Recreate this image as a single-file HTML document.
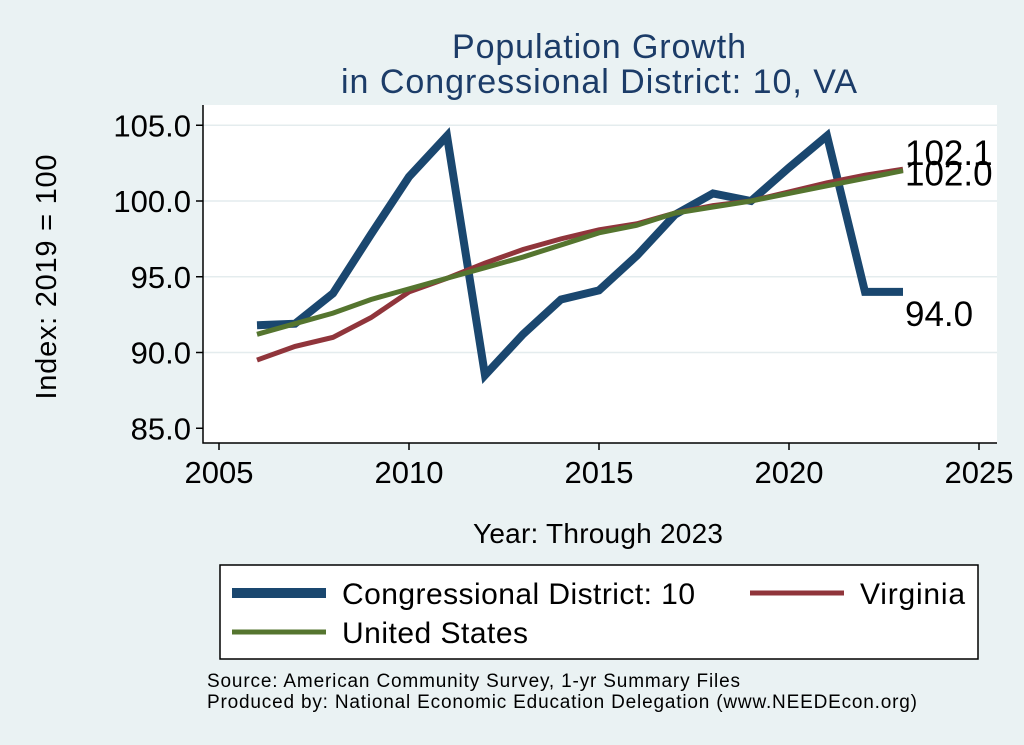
<!DOCTYPE html>
<html><head><meta charset="utf-8"><style>
body{margin:0;background:#eaf2f3;}
svg{display:block;font-family:"Liberation Sans",sans-serif;}
</style></head><body>
<svg id="c" width="1024" height="745" viewBox="0 0 1024 745">
<rect x="0" y="0" width="1024" height="745" fill="#eaf2f3"/>
<text x="599" y="58" font-size="34" fill="#1c3c68" text-anchor="middle" textLength="294">Population Growth</text>
<text x="599" y="93" font-size="34" fill="#1c3c68" text-anchor="middle" textLength="516">in Congressional District: 10, VA</text>
<rect x="203" y="105" width="794" height="338" fill="#fff"/>
<g id="grid"></g><g id="axes"></g><g id="series"></g>
<text transform="translate(56,277) rotate(-90)" font-size="29" text-anchor="middle" textLength="245">Index: 2019 = 100</text>
<text x="598" y="543" font-size="28" text-anchor="middle" textLength="250">Year: Through 2023</text>
<g>
<rect x="220" y="565" width="758" height="94" fill="#fff" stroke="#000" stroke-width="1.5"/>
<line x1="232" y1="593" x2="326" y2="593" stroke="#1a476f" stroke-width="10"/>
<text x="342" y="604" font-size="30" textLength="353">Congressional District: 10</text>
<line x1="750" y1="593" x2="844" y2="593" stroke="#90353b" stroke-width="5"/>
<text x="860" y="604" font-size="30" textLength="105">Virginia</text>
<line x1="232" y1="632" x2="326" y2="632" stroke="#55752f" stroke-width="5"/>
<text x="342" y="643" font-size="30" textLength="186">United States</text>
</g>
<text x="207" y="687" font-size="19" textLength="533">Source: American Community Survey, 1-yr Summary Files</text>
<text x="207" y="708" font-size="19" textLength="710">Produced by: National Economic Education Delegation (www.NEEDEcon.org)</text>
</svg>
<script>
const years=[2006,2007,2008,2009,2010,2011,2012,2013,2014,2015,2016,2017,2018,2019,2020,2021,2022,2023];
const district=[91.8,91.9,93.9,97.8,101.6,104.3,88.5,91.2,93.5,94.1,96.4,99.1,100.5,100.0,102.2,104.3,94.0,94.0];
const virginia=[89.5,90.4,91.0,92.3,94.0,94.9,95.9,96.8,97.5,98.1,98.5,99.2,99.7,100.0,100.6,101.2,101.7,102.1];
const us=[91.2,91.9,92.6,93.5,94.2,94.9,95.6,96.3,97.1,97.9,98.4,99.2,99.6,100.0,100.5,101.0,101.5,102.0];
const xTicks=[2005,2010,2015,2020,2025];
const yTicks=[85,90,95,100,105];
const NS='http://www.w3.org/2000/svg';
const X=v=>219+(v-2005)*38;
const Y=v=>201-(v-100)*15.15;
function mk(t,a,p){const e=document.createElementNS(NS,t);for(const k in a)e.setAttribute(k,a[k]);p.appendChild(e);return e;}
const grid=document.getElementById('grid'),axes=document.getElementById('axes'),ser=document.getElementById('series');
yTicks.forEach(v=>{
 if(v>85){const g=mk('line',{x1:203,x2:997,y1:Y(v),y2:Y(v),stroke:'#e4ecee','stroke-width':1.5},grid);
 
 }
 const t=mk('line',{x1:196,x2:203,y1:Y(v),y2:Y(v),stroke:'#000','stroke-width':1.5},axes);
 
 
 const l=mk('text',{x:191,y:Y(v)+11,'font-size':31,'text-anchor':'end'},axes);l.textContent=v.toFixed(1);
 
 
});
xTicks.forEach(v=>{
 const t=mk('line',{x1:X(v),x2:X(v),y1:443,y2:450,stroke:'#000','stroke-width':1.5},axes);
 
 
 const l=mk('text',{x:X(v),y:483,'font-size':31,'text-anchor':'middle'},axes);l.textContent=v;
 
 
});
const ax=mk('path',{d:'M203 105V443H997',fill:'none',stroke:'#000','stroke-width':1.5},axes);


function line(vals,color,w,name){
 const p=mk('polyline',{points:vals.map((v,i)=>X(years[i])+','+Y(v)).join(' '),fill:'none',stroke:color,'stroke-width':w,'stroke-linejoin':'miter'},ser);
 
 
}
line(district,'#1a476f',8,'line-district');
line(virginia,'#90353b',5,'line-virginia');
line(us,'#55752f',5,'line-us');
function lab(v,dy,name){const t=mk('text',{x:X(2023)+2,y:Y(v)+dy,'font-size':35},ser);t.textContent=v.toFixed(1);
 
 }
lab(virginia[17],-4,'end-label-virginia');
lab(us[17],15,'end-label-us');
lab(district[17],34,'end-label-district');
</script>
</body></html>
